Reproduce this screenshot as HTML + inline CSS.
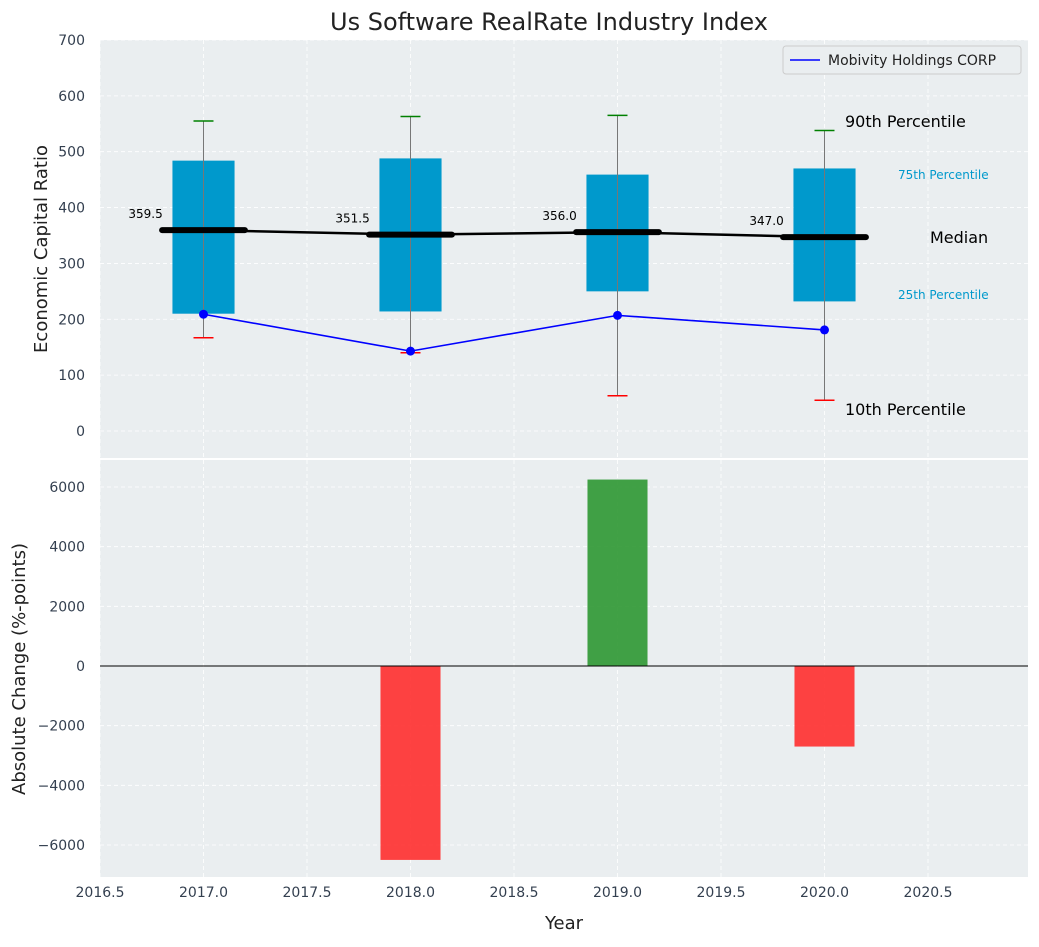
<!DOCTYPE html>
<html><head><meta charset="utf-8"><style>
body{margin:0;background:#fff;font-family:"Liberation Sans","DejaVu Sans",sans-serif}
svg text{font-family:"DejaVu Sans","Liberation Sans",sans-serif}
</style></head><body>
<svg id="c" width="1039" height="942"></svg>
<script>
const years=[2017,2018,2019,2020];
const p10=[167,140,63,55];
const q1=[210,214,250,232];
const med=[359.5,351.5,356.0,347.0];
const q3=[484,488,459,470];
const p90=[555,563,565,538];
const company=[209,143,207,181];
const changes=[0,-6500,6250,-2700];
const xTicks=[2016.5,2017,2017.5,2018,2018.5,2019,2019.5,2020,2020.5];
const yTopTicks=[0,100,200,300,400,500,600,700];
const yBotTicks=[-6000,-4000,-2000,0,2000,4000,6000];

const NS="http://www.w3.org/2000/svg";
const svg=document.getElementById('c');
function el(t,a,p){const e=document.createElementNS(NS,t);for(const k in a)e.setAttribute(k,a[k]);(p||svg).appendChild(e);return e;}
const L=100,R=1028;
const X=v=>L+(v-2016.5)*207;
const T0=40,T1=458,Y1=v=>431-v*0.5586;
const B0=460,B1=877,Y2=v=>666-v*0.029833;

// backgrounds
let bg1=el('rect',{x:L,y:T0,width:R-L,height:T1-T0,fill:'#eaeef0'});


let bg2=el('rect',{x:L,y:B0,width:R-L,height:B1-B0,fill:'#eaeef0'});



// grids
xTicks.forEach(t=>{
  el('line',{x1:X(t),x2:X(t),y1:T0,y2:T1,stroke:'#fff','stroke-dasharray':'4,3','stroke-width':0.8});
  el('line',{x1:X(t),x2:X(t),y1:B0,y2:B1,stroke:'#fff','stroke-dasharray':'4,3','stroke-width':0.8});
  const tx=el('text',{x:X(t),y:B1+20,'text-anchor':'middle','font-size':14,fill:'#333f4f'});tx.textContent=t.toFixed(1);
  
  
});
yTopTicks.forEach(t=>{
  el('line',{x1:L,x2:R,y1:Y1(t),y2:Y1(t),stroke:'#fff','stroke-dasharray':'4,3','stroke-width':0.8});
  const tx=el('text',{x:85,y:Y1(t)+5,'text-anchor':'end','font-size':14,fill:'#333f4f'});tx.textContent=t;
  
  
});
yBotTicks.forEach(t=>{
  el('line',{x1:L,x2:R,y1:Y2(t),y2:Y2(t),stroke:'#fff','stroke-dasharray':'4,3','stroke-width':0.8});
  const tx=el('text',{x:85,y:Y2(t)+5,'text-anchor':'end','font-size':14,fill:'#333f4f'});tx.textContent=(t<0?'−'+(-t):t);
  
  
});

// boxes
years.forEach((y,i)=>{
  const bx=el('rect',{x:X(y-0.15),y:Y1(q3[i]),width:X(y+0.15)-X(y-0.15),height:Y1(q1[i])-Y1(q3[i]),fill:'#0099cc'});
  
  
  el('line',{x1:X(y),x2:X(y),y1:Y1(p10[i]),y2:Y1(p90[i]),stroke:'#777','stroke-width':1});
  el('line',{x1:X(y)-10,x2:X(y)+10,y1:Y1(p90[i]),y2:Y1(p90[i]),stroke:'green','stroke-width':1.5});
  el('line',{x1:X(y)-10,x2:X(y)+10,y1:Y1(p10[i]),y2:Y1(p10[i]),stroke:'red','stroke-width':1.5});
});
// median connecting line
let mp=years.map((y,i)=>X(y)+','+Y1(med[i])).join(' ');
let ml=el('polyline',{points:mp,fill:'none',stroke:'#000','stroke-width':2.5});


years.forEach((y,i)=>{
  const m=el('line',{x1:X(y-0.2),x2:X(y+0.2),y1:Y1(med[i]),y2:Y1(med[i]),stroke:'#000','stroke-width':6,'stroke-linecap':'round'});
  
  
  const t=el('text',{x:X(y-0.28),y:Y1(med[i])-12,'text-anchor':'middle','font-size':12,fill:'#000'});t.textContent=med[i].toFixed(1);
  
  
});
// company line
let cp=years.map((y,i)=>X(y)+','+Y1(company[i])).join(' ');
let cl=el('polyline',{points:cp,fill:'none',stroke:'blue','stroke-width':1.6});


years.forEach((y,i)=>{
  const c=el('circle',{cx:X(y),cy:Y1(company[i]),r:4.5,fill:'blue'});
  
  
});
// annotations
[['90th Percentile',845,127,16,'#000'],['75th Percentile',898,179,12,'#0099cc'],['Median',930,243,16,'#000'],['25th Percentile',898,299,12,'#0099cc'],['10th Percentile',845,415,16,'#000']].forEach(a=>{
  const t=el('text',{x:a[1],y:a[2],'font-size':a[3],fill:a[4]});t.textContent=a[0];
  
  
});
// legend
const lg=el('g',{});


el('rect',{x:783,y:46,width:238,height:28,fill:'#eaeef0',stroke:'#ccc',rx:3},lg);
el('line',{x1:790,x2:820,y1:60,y2:60,stroke:'blue','stroke-width':1.6},lg);
const lt=el('text',{x:828,y:65,'font-size':14,fill:'#222'},lg);lt.textContent='Mobivity Holdings CORP';

// bars
years.forEach((y,i)=>{
  const v=changes[i];
  const b=el('rect',{x:X(y-0.145),y:Math.min(Y2(v),Y2(0)),width:X(y+0.145)-X(y-0.145),height:Math.abs(Y2(v)-Y2(0)),fill:v>=0?'#2e9732':'#ff2d2d','fill-opacity':0.9});
  
  
});
el('line',{x1:L,x2:R,y1:Y2(0),y2:Y2(0),stroke:'#000','stroke-width':1});

// titles
let ti=el('text',{x:549,y:30,'text-anchor':'middle','font-size':24,fill:'#222'});ti.textContent='Us Software RealRate Industry Index';

let xl=el('text',{x:564,y:929,'text-anchor':'middle','font-size':18,fill:'#222'});xl.textContent='Year';

let y1=el('text',{x:47,y:249,'text-anchor':'middle','font-size':18,fill:'#222',transform:'rotate(-90 47 249)'});y1.textContent='Economic Capital Ratio';

let y2=el('text',{x:25,y:669,'text-anchor':'middle','font-size':18,fill:'#222',transform:'rotate(-90 25 669)'});y2.textContent='Absolute Change (%-points)';

</script>
</body></html>
